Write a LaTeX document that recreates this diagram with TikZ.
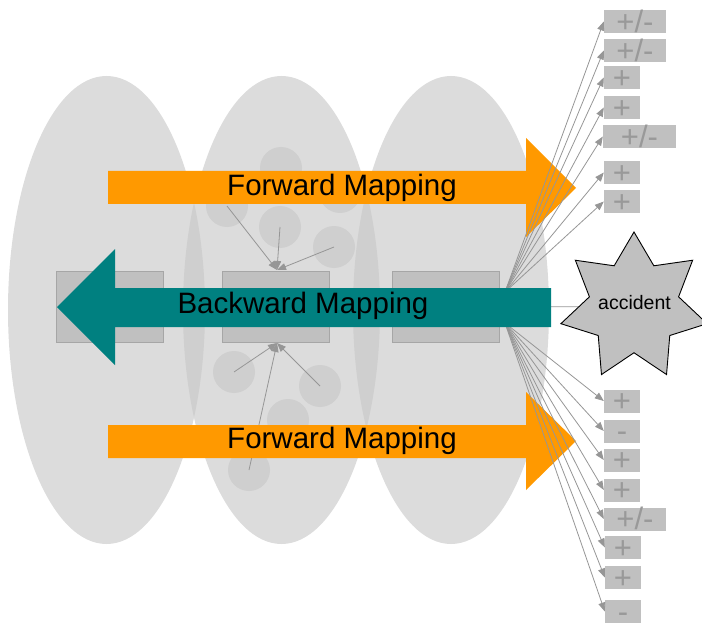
\documentclass[tikz,border=0pt]{standalone}
\usepackage{fontspec}
\setmainfont{Liberation Sans}
\usetikzlibrary{arrows.meta,shapes.geometric}

\definecolor{ellgray}{RGB}{199,199,199}
\definecolor{boxgray}{RGB}{192,192,192}
\definecolor{boxedge}{RGB}{166,166,166}
\definecolor{linegray}{RGB}{150,150,150}
\definecolor{pmtext}{RGB}{153,153,153}
\definecolor{fwdorange}{RGB}{255,153,0}
\definecolor{bwdteal}{RGB}{0,128,128}

\newcommand{\pmsign}[1]{\smash{\raisebox{-0.34em}{#1}}}

\tikzset{
  layer/.style={fill=ellgray, fill opacity=0.63},
  stagebox/.style={rectangle, draw=boxedge, fill=boxgray, line width=0.9pt,
    minimum width=107pt, minimum height=71pt, inner sep=0pt},
  conn/.style={draw=linegray, line width=0.8pt,
    -{Triangle[length=9pt,width=7pt]}},
  plainconn/.style={draw=linegray, line width=0.8pt},
  pmbox/.style={rectangle, fill=boxgray, inner sep=0pt, minimum height=23pt,
    text=pmtext, font=\fontsize{31}{31}\selectfont},
  pmone/.style={pmbox, minimum width=36pt},
  pmtwo/.style={pmbox, minimum width=62pt},
  maplabel/.style={font=\fontsize{29.5}{30}\selectfont, text=black, inner sep=0pt},
}

\begin{document}
\begin{tikzpicture}[x=1pt, y=-1pt]
\useasboundingbox (0,0) rectangle (702,623);

% three overlapping layers
\fill[layer] (106.5,310) ellipse [x radius=98.5, y radius=234];
\fill[layer] (281.5,310) ellipse [x radius=98.5, y radius=234];
\fill[layer] (451,310) ellipse [x radius=98, y radius=234];

% contributing factors in the middle layer
\foreach \n/\p in {c1/{(281,168)}, c2/{(227,206)}, c3/{(340,192)},
                   c4/{(280,227)}, c5/{(334,247)},
                   c6/{(234,372)}, c7/{(320,386)}, c8/{(288,420)}, c9/{(249,470)}}
  \fill[layer] \p circle [radius=21] coordinate (\n);

% stage boxes
\node[stagebox] (lbox) at (109.5,306.5) {};
\node[stagebox] (mbox) at (275.5,306.5) {};
\node[stagebox] (rbox) at (446,306.5) {};

% factors feeding the middle box
\coordinate (mtop) at (277,270);
\coordinate (mbot) at (277,343);
\draw[conn] (c2) -- (mtop);
\draw[conn] (c4) -- (mtop);
\draw[conn] (c5) -- (mtop);
\draw[conn] (c6) -- (mbot);
\draw[conn] (c7) -- (mbot);
\draw[conn] (c9) -- (mbot);

% forward mapping arrows
\fill[fwdorange] (108,171) -- (526,171) -- (526,138) -- (576,188)
  -- (526,237) -- (526,204) -- (108,204) -- cycle;
\fill[fwdorange] (108,425) -- (526,425) -- (526,392) -- (576,441)
  -- (526,490) -- (526,458) -- (108,458) -- cycle;
\node[maplabel] (fwd1) at (342,188) {Forward Mapping};
\node[maplabel] (fwd2) at (342,441) {Forward Mapping};

% outcome boxes
\node[pmtwo] (t1) at (635,21.5) {\pmsign{+/-}};
\node[pmtwo] (t2) at (635,50.5) {\pmsign{+/-}};
\node[pmone] (t3) at (622,77.5) {\pmsign{+}};
\node[pmone] (t4) at (622,107.5) {\pmsign{+}};
\node[pmbox, minimum width=73pt] (t5) at (639.5,136.5) {\pmsign{+/-}};
\node[pmone] (t6) at (622,172.5) {\pmsign{+}};
\node[pmone] (t7) at (622,201.5) {\pmsign{+}};

\node[pmone] (b1) at (622,401) {\pmsign{+}};
\node[pmone] (b2) at (622,431) {\pmsign{-}};
\node[pmone] (b3) at (622,460) {\pmsign{+}};
\node[pmone] (b4) at (622,490) {\pmsign{+}};
\node[pmtwo] (b5) at (635,519) {\pmsign{+/-}};
\node[pmone] (b6) at (623,547.5) {\pmsign{+}};
\node[pmone] (b7) at (623,577.5) {\pmsign{+}};
\node[pmone] (b8) at (623,611.5) {\pmsign{-}};

% fan of outcomes from the right stage
\coordinate (fanup) at (505,292);
\coordinate (fandown) at (505,323);
\foreach \t in {t1,t2,t3,t4,t5,t6,t7}
  \draw[conn] (fanup) -- (\t.west);
\foreach \b in {b1,b2,b3,b4,b5,b6,b7,b8}
  \draw[conn] (fandown) -- (\b.west);

% accident
\node[star, star points=7, star point ratio=1.64, minimum size=150pt,
  inner sep=0pt, draw=black, line width=0.9pt, fill=boxgray] (acc) at (634,307) {};
\node[font=\fontsize{19.5}{20}\selectfont, inner sep=0pt] (acctext) at (634.5,302.5) {accident};
\draw[plainconn] (rbox.east) -- (acc);

% backward mapping arrow
\fill[bwdteal] (57,307) -- (115,249) -- (115,288) -- (551,288)
  -- (551,327) -- (115,327) -- (115,365) -- cycle;
\node[maplabel] (bwd) at (303,306) {Backward Mapping};
\end{tikzpicture}
\end{document}
